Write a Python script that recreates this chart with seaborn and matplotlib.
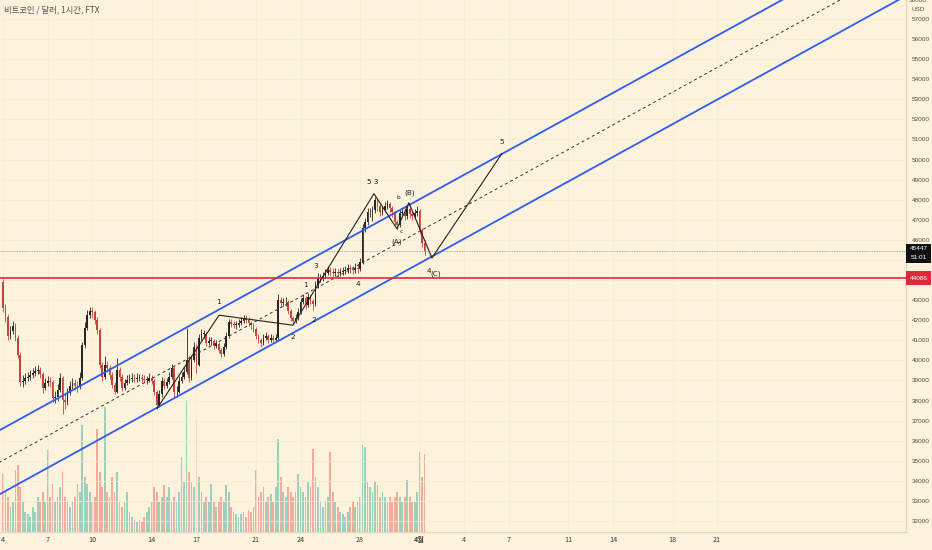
import numpy as np
import pandas as pd
import matplotlib
matplotlib.use("Agg")
import matplotlib.pyplot as plt
import matplotlib.transforms as mtransforms
from matplotlib.patches import Rectangle
import seaborn as sns

BG = "#fdf2dc"
sns.set_theme(style="white", rc={"axes.facecolor": BG, "figure.facecolor": BG})
plt.rcParams['font.family'] = ['Noto Sans CJK KR', 'DejaVu Sans']

title = "비트코인 / 달러, 1시간, FTX"

# ---- candles: 4-hour bars starting 2022-03-04 00:00 (day 0) ----
candle_hours = 4
first_open = 43900
closes = [42608, 42159, 41213, 41462, 41711, 41114, 40267, 38922, 38972, 39122,
          39171, 39271, 39371, 39470, 39520, 39321, 38624, 38873, 38972, 38922,
          38126, 38175, 38524, 39122, 38026, 37926, 38375, 38723, 38873, 38723,
          38673, 39122, 40765, 41612, 42259, 42458, 42408, 42010, 41512, 39769,
          39171, 39769, 39620, 39271, 38773, 38424, 39520, 39171, 38624, 38873,
          39022, 39072, 39122, 39072, 39122, 39122, 39072, 39022, 39022, 39122,
          38972, 38424, 37777, 38325, 38972, 38723, 38922, 39171, 39620, 38424,
          38424, 38972, 39171, 39420, 40018, 39122, 40018, 40665, 39769, 41114,
          41313, 41313, 40865, 40964, 40964, 40715, 40815, 40516, 40317, 40665,
          41213, 41910, 41811, 41761, 41761, 41861, 41960, 42110, 42010, 41861,
          41761, 41562, 41213, 41014, 40865, 41114, 41213, 41014, 41114, 41014,
          41114, 43006, 42857, 42906, 42906, 42458, 42110, 41960, 42110, 42408,
          42906, 43106, 42757, 43155, 42956, 42807, 43753, 44102, 44102, 44201,
          44351, 44500, 44400, 44351, 44400, 44351, 44400, 44450, 44500, 44600,
          44550, 44500, 44600, 44550, 44898, 46592, 46890, 47388, 47388, 47488,
          47986, 47687, 47388, 47488, 47687, 47787, 47588, 47388, 46890, 46741,
          47339, 47388, 47189, 47538, 47289, 47189, 47339, 47438, 46492, 45845,
          45447]
highs = [44050, 42800, 42300, 41700, 41950, 41850, 41250, 40400, 39250, 39350,
         39400, 39500, 39600, 39700, 39750, 39650, 39400, 39100, 39200, 39150,
         39000, 38450, 38800, 39350, 39200, 38300, 38600, 38950, 39100, 39050,
         38950, 39400, 40900, 41900, 42500, 42650, 42650, 42500, 42150, 41600,
         39900, 40200, 39950, 39750, 39400, 38900, 40100, 39650, 39300, 39050,
         39250, 39300, 39350, 39300, 39350, 39300, 39300, 39250, 39200, 39350,
         39250, 39050, 38500, 38500, 39150, 39100, 39100, 39400, 39800, 39700,
         38700, 39200, 39400, 39650, 41600, 40200, 40250, 40900, 40800, 41300,
         41550, 41500, 41400, 41150, 41150, 41050, 41000, 40900, 40600, 40850,
         41400, 42050, 42050, 41950, 41950, 42050, 42150, 42250, 42250, 42150,
         41950, 41850, 41650, 41300, 41100, 41300, 41400, 41300, 41300, 41250,
         41300, 43300, 43150, 43100, 43150, 43000, 42550, 42200, 42300, 42600,
         43100, 43300, 43200, 43350, 43250, 43050, 43950, 44350, 44300, 44400,
         44550, 44700, 44650, 44600, 44600, 44550, 44600, 44650, 44700, 44800,
         44750, 44700, 44850, 44800, 45100, 46800, 47100, 47600, 47600, 47700,
         48150, 48100, 47800, 47700, 47900, 48000, 47900, 47700, 47450, 47000,
         47550, 47600, 47500, 47750, 47650, 47450, 47550, 47700, 47550, 46600,
         46000]
lows = [42400, 41900, 41000, 41050, 41300, 40950, 40100, 38700, 38650, 38800,
        38950, 39000, 39100, 39200, 39300, 39100, 38350, 38500, 38700, 38650,
        37950, 37900, 38000, 38400, 37350, 37600, 37800, 38250, 38550, 38500,
        38400, 38550, 39000, 40600, 41500, 42100, 42100, 41800, 41300, 39600,
        38950, 39050, 39400, 39050, 38600, 38300, 38350, 38950, 38450, 38500,
        38750, 38850, 38900, 38900, 38900, 38950, 38900, 38850, 38800, 38900,
        38800, 38250, 37600, 37700, 38200, 38550, 38600, 38800, 39050, 38150,
        38200, 38350, 38850, 39050, 39300, 38900, 39000, 39900, 39350, 39700,
        41000, 41100, 40700, 40750, 40750, 40550, 40600, 40350, 40150, 40200,
        40550, 41100, 41650, 41600, 41550, 41650, 41750, 41850, 41850, 41700,
        41550, 41400, 41050, 40850, 40650, 40750, 41000, 40850, 40900, 40850,
        40900, 41000, 42650, 42700, 42700, 42300, 41950, 41800, 41850, 42000,
        42300, 42800, 42550, 42650, 42800, 42500, 42700, 43600, 43900, 43950,
        44100, 44250, 44200, 44150, 44200, 44150, 44200, 44250, 44300, 44350,
        44350, 44300, 44350, 44350, 44450, 44800, 46400, 46750, 47150, 46950,
        47350, 47450, 47200, 47250, 47400, 47550, 47400, 47150, 46700, 46500,
        46650, 47150, 47000, 47050, 47100, 47000, 47050, 47200, 46300, 45650,
        45250]
volumes = [58, 40, 35, 25, 30, 62, 67, 45, 30, 20,
           18, 15, 25, 20, 35, 30, 40, 30, 82, 35,
           48, 30, 35, 45, 60, 35, 30, 25, 30, 35,
           48, 40, 107, 55, 48, 40, 30, 35, 103, 60,
           45, 125, 40, 35, 55, 40, 60, 30, 25, 30,
           40, 20, 15, 12, 10, 12, 10, 15, 20, 25,
           30, 45, 40, 30, 35, 47, 35, 45, 30, 35,
           30, 40, 75, 50, 132, 60, 50, 45, 110, 55,
           40, 30, 35, 30, 48, 30, 25, 30, 35, 30,
           47, 40, 25, 20, 18, 15, 18, 20, 15, 22,
           20, 25, 62, 35, 40, 45, 30, 35, 38, 30,
           45, 93, 55, 40, 35, 45, 40, 35, 40, 58,
           45, 40, 35, 50, 45, 83, 55, 45, 30, 25,
           30, 35, 80, 40, 30, 25, 20, 18, 15, 20,
           25, 30, 25, 30, 35, 87, 85, 50, 45, 40,
           50, 47, 35, 40, 35, 30, 35, 30, 35, 40,
           35, 30, 35, 52, 35, 30, 30, 40, 80, 55,
           78]

# ---- axes ticks ----
price_ticks = list(range(32000, 58000, 1000))
hidden_price_ticks = [44000, 45000]   # covered by the price boxes
date_ticks = [0, 3, 6, 10, 13, 17, 20, 24, 28, 31, 34, 38, 41, 45, 48]
date_labels = ["4", "7", "10", "14", "17", "21", "24", "28", "4월", "4", "7", "11", "14", "18", "21"]

# ---- drawings ----
channel_days = [-1.0, 62.0]
channel_upper = [36206, 61879]
channel_lower = [33018, 58691]
support_price = 44086
last_price = 45447
countdown = "51:01"

wave_days = [10.35, 14.52, 19.49, 24.93, 26.48, 27.28, 28.83, 33.53]
wave_prices = [37600, 42250, 41750, 48300, 46550, 47850, 45100, 50300]

wave_label_text = ["1", "2", "1", "2", "3", "4", "5 3", "(B)", "(A)", "4", "(C)", "5", "b", "c"]
wave_label_days = [14.45, 19.49, 20.36, 20.90, 21.03, 23.86, 24.87, 27.35, 26.48, 28.62, 29.06, 33.53, 26.55, 26.78]
wave_label_prices = [42906, 41163, 43753, 42016, 44699, 43803, 48882, 48335, 45894, 44430, 44330, 50874, 48135, 46442]

# ---------------------------------------------------------------
W, H = 932, 550
fig = plt.figure(figsize=(W / 100, H / 100), dpi=100)
rect = [0, 18 / H, 906 / W, 532 / H]
ax = fig.add_axes(rect)
axv = ax.twinx()
ax.set_zorder(axv.get_zorder() + 1)
ax.patch.set_visible(False)
axv.patch.set_facecolor(BG)

n = len(closes)
opens = [first_open] + closes[:-1]   # each bar opens at the previous close
days = np.arange(n) * candle_hours / 24.0
df = pd.DataFrame({"day": days, "open": opens, "high": highs, "low": lows,
                   "close": closes, "volume": volumes})
df["up"] = df["close"] >= df["open"]

UP_C, DN_C = "#262626", "#c8433c"
VUP_C, VDN_C = "#26a69a", "#ef5350"
bw = candle_hours / 24.0

# volume
axv.bar(df["day"], df["volume"], width=bw * 0.7,
        color=np.where(df["up"], VUP_C, VDN_C), alpha=0.45, linewidth=0)
axv.set_ylim(0, 532)
axv.set_yticks([])
axv.tick_params(right=False, labelright=False)

# grid
for p in price_ticks:
    ax.axhline(p, color="#f6ead1", lw=0.5, zorder=0)
for d in date_ticks:
    ax.axvline(d, color="#f6ead1", lw=0.5, zorder=0)

# candles
ccol = np.where(df["up"], UP_C, DN_C)
ax.vlines(df["day"], df["low"], df["high"], colors=ccol, lw=0.6, zorder=3)
body_lo = np.minimum(df["open"], df["close"])
body_h = np.maximum(np.abs(df["close"] - df["open"]), 25)
ax.bar(df["day"], body_h, bottom=body_lo, width=bw * 0.7, color=ccol, linewidth=0, zorder=3)

# channel
mid = [(u + l) / 2 for u, l in zip(channel_upper, channel_lower)]
sns.lineplot(x=channel_days, y=channel_upper, color="#2f5cf0", lw=1.3, ax=ax, zorder=4)
sns.lineplot(x=channel_days, y=channel_lower, color="#2f5cf0", lw=1.3, ax=ax, zorder=4)
ax.plot(channel_days, mid, color="#333333", lw=0.7, ls=(0, (3, 3)), zorder=4)

# horizontal lines
ax.axhline(support_price, color="#e0283a", lw=1.2, zorder=4)
ax.axhline(last_price, color="#9a9a9a", lw=0.6, ls=(0, (1, 1)), zorder=2)

# wave path
sns.lineplot(x=wave_days, y=wave_prices, color="#222222", lw=0.8, ax=ax, sort=False,
             estimator=None, zorder=5)
for t, d, p in zip(wave_label_text, wave_label_days, wave_label_prices):
    fs = 4.2 if t in ("b", "c") else 5.2
    ax.text(d, p, t, fontsize=fs, ha="center", va="center", color="#222222", zorder=6,
            family=["DejaVu Sans"])

ax.set_xlim(-0.2016, 60.69)
ax.set_ylim(31452, 57946)

# ticks
ax.yaxis.tick_right()
ax.set_yticks(price_ticks)
ax.set_yticklabels(["" if p in hidden_price_ticks else str(p) for p in price_ticks])
ax.tick_params(axis="y", length=0, pad=4, labelsize=4.6, labelcolor="#505050",
               labelfontfamily="Liberation Sans")
ax.set_xticks(date_ticks)
ax.set_xticklabels(date_labels)
ax.tick_params(axis="x", length=0, pad=3, labelsize=5.2, labelcolor="#404040")
for lab in ax.get_xticklabels():
    if lab.get_text() == "4월":
        lab.set_fontweight("bold")
ax.grid(False)
axv.grid(False)

for a in (ax, axv):
    for s in ("top", "left"):
        a.spines[s].set_visible(False)
    a.spines["right"].set_color("#e2d7bf")
    a.spines["bottom"].set_color("#e2d7bf")
    a.spines["right"].set_linewidth(0.8)
    a.spines["bottom"].set_linewidth(0.8)

# price scale labels
blend = mtransforms.blended_transform_factory(ax.transAxes, ax.transData)
px = 49.8  # price units per pixel
box_w = 25 / 906
ax.add_patch(Rectangle((1.0, support_price - 7 * px), box_w, 14 * px, transform=blend,
                       facecolor="#e0283a", edgecolor="none", clip_on=False, zorder=10))
ax.text(1.0 + box_w / 2, support_price, str(support_price), transform=blend, ha="center",
        va="center", fontsize=4.6, color="white", family=["Liberation Sans"], clip_on=False,
        zorder=11)
ax.add_patch(Rectangle((1.0, last_price - 12 * px), box_w, 19 * px, transform=blend,
                       facecolor="#111111", edgecolor="none", clip_on=False, zorder=10))
ax.text(1.0 + box_w / 2, last_price + 2 * px, str(last_price), transform=blend, ha="center",
        va="center", fontsize=4.6, color="white", family=["Liberation Sans"], clip_on=False,
        zorder=11)
ax.text(1.0 + box_w / 2, last_price - 7 * px, countdown, transform=blend, ha="center",
        va="center", fontsize=4.6, color="white", family=["Liberation Sans"], clip_on=False,
        zorder=11)

fig.text(918 / W, 1 - 1 / H, "58000", ha="center", va="center", fontsize=4.6,
         color="#505050", family=["Liberation Sans"])
fig.text(918 / W, 1 - 9.5 / H, "USD", ha="center", va="center", fontsize=4.6,
         color="#505050", family=["Liberation Sans"])

fig.text(4 / W, 1 - 10 / H, title, ha="left", va="center", fontsize=6, color="#555555")

fig.savefig("out.png", dpi=100, facecolor=BG)
